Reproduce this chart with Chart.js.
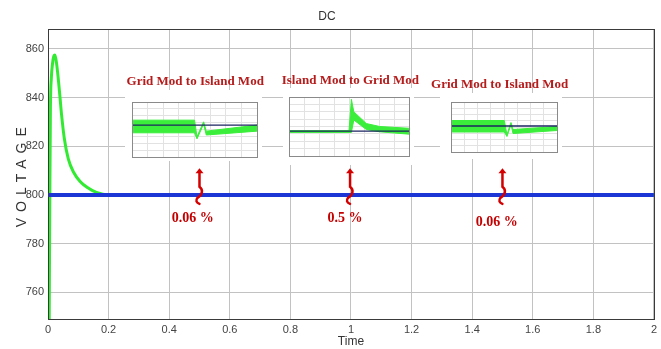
<!DOCTYPE html>
<html><head><meta charset="utf-8">
<script src="https://cdn.jsdelivr.net/npm/chart.js@4.4.1/dist/chart.umd.min.js"></script>
<style>
html,body{margin:0;padding:0;background:#fff;}
#wrap{position:relative;width:661px;height:349px;overflow:hidden;}
#main{position:absolute;left:0;top:0;}
.inset{position:absolute;background:#fff;}
.inset canvas{display:block;}
</style></head><body>
<div id="wrap">
<canvas id="main" width="661" height="349"></canvas>
<div class="inset" style="left:125px;top:90px;width:137px;height:71px"><canvas id="c1" width="137" height="71"></canvas></div>
<div class="inset" style="left:283px;top:88px;width:131px;height:77px"><canvas id="c2" width="131" height="77"></canvas></div>
<div class="inset" style="left:440px;top:93px;width:122px;height:66px"><canvas id="c3" width="122" height="66"></canvas></div>
</div>
<script>
// ---- main chart data ----
const xTicks = [0, 0.2, 0.4, 0.6, 0.8, 1, 1.2, 1.4, 1.6, 1.8, 2];
const xTickLabels = ['0','0.2','0.4','0.6','0.8','1','1.2','1.4','1.6','1.8','2'];
const yTicks = [760, 780, 800, 820, 840, 860];
const yTickLabels = ['760','780','800','820','840','860'];
const greenTime    = [0.004, 0.006, 0.008, 0.011, 0.015, 0.019, 0.023, 0.029, 0.037, 0.045, 0.054, 0.067, 0.084, 0.106, 0.13, 0.16, 0.2, 2];
const greenVoltage = [749,   800,   836,   848,   854,   857,   857.5, 853.3, 843.7, 832.7, 823.1, 814.8, 809.4, 805.5, 803, 801, 800, 800];
const blueTime    = [0, 2];
const blueVoltage = [800, 800];

// ---- annotation content ----
const modeTexts = ['Grid Mod to Island Mod', 'Island Mod to Grid Mod', 'Grid Mod to Island Mod'];
const percentTexts = ['0.06 %', '0.5 %', '0.06 %'];
const eventTimes = [0.5, 0.997, 1.5];

// ---- inset data (normalised time 0..1, arbitrary voltage 0..10) ----
const inset1X     = [0, 0.5, 0.52, 0.573, 0.594, 1];
const inset1Upper = [6.7, 6.7, 3.7, 6.4, 4.7, 5.8];
const inset1Lower = [4.4, 4.4, 3.3, 6.0, 4.0, 4.7];
const inset1Ref   = 5.8;
const inset2X     = [0, 0.5, 0.52, 0.54, 0.644, 0.756, 1];
const inset2Upper = [4.3, 4.3, 9.6, 7.5, 5.5, 5.0, 4.7];
const inset2Lower = [4.0, 4.0, 4.0, 6.1, 4.5, 4.1, 3.7];
const inset2Ref   = 4.2;
const inset3X     = [0, 0.503, 0.528, 0.566, 0.585, 1];
const inset3Upper = [6.3, 6.3, 3.5, 5.9, 4.5, 5.1];
const inset3Lower = [4.0, 4.0, 3.1, 5.5, 3.7, 4.3];
const inset3Ref   = 5.2;

// annotation placement (in data units)
const notes = {
  modeX: [0.486, 0.998, 1.491], modeY: [846.7, 847, 845.4],
  arrowTip: 810.9, arrowShaftEnd: 803.3,
  pctX: [0.478, 0.98, 1.481], pctY: [790.5, 790.5, 788.9]
};

const tickFont = {family: "'Liberation Sans', Arial, sans-serif", size: 11};

const frame = {
  id: 'frame',
  afterDraw(chart, args, opts) {
    const a = chart.chartArea, ctx = chart.ctx;
    ctx.save();
    ctx.strokeStyle = opts.color || '#333';
    ctx.lineWidth = 1;
    ctx.strokeRect(Math.round(a.left) + 0.5, Math.round(a.top) + 0.5, Math.round(a.right - a.left), Math.round(a.bottom - a.top));
    ctx.restore();
  }
};

const annot = {
  id: 'annot',
  afterDraw(chart) {
    const ctx = chart.ctx, xs = chart.scales.x, ys = chart.scales.y;
    ctx.save();
    // y axis title with letter spacing
    ctx.fillStyle = '#333';
    ctx.font = "14px 'Liberation Sans', Arial, sans-serif";
    ctx.textAlign = 'center';
    ctx.textBaseline = 'middle';
    ctx.translate(22, (chart.chartArea.top + chart.chartArea.bottom) / 2 + 3);
    ctx.rotate(-Math.PI / 2);
    try { ctx.letterSpacing = '6px'; } catch (e) {}
    ctx.fillText('VOLTAGE', 3, 0);
    ctx.restore();

    ctx.save();
    ctx.textAlign = 'center';
    ctx.textBaseline = 'middle';
    // mode titles
    ctx.fillStyle = '#b51c1c';
    ctx.font = "bold 13px 'Liberation Serif', 'Times New Roman', serif";
    modeTexts.forEach((t, i) => {
      ctx.fillText(t, xs.getPixelForValue(notes.modeX[i]), ys.getPixelForValue(notes.modeY[i]));
    });
    // percent labels
    ctx.fillStyle = '#c40000';
    ctx.font = "bold 14px 'Liberation Serif', 'Times New Roman', serif";
    percentTexts.forEach((t, i) => {
      ctx.fillText(t, xs.getPixelForValue(notes.pctX[i]), ys.getPixelForValue(notes.pctY[i]));
    });
    // curly arrows
    ctx.strokeStyle = '#d40000';
    ctx.fillStyle = '#d40000';
    ctx.lineWidth = 2.5;
    ctx.lineCap = 'round';
    eventTimes.forEach(t => {
      const x = xs.getPixelForValue(t);
      const tip = ys.getPixelForValue(notes.arrowTip);
      const s = ys.getPixelForValue(notes.arrowShaftEnd);
      ctx.beginPath();
      ctx.moveTo(x, tip);
      ctx.lineTo(x - 4, tip + 5);
      ctx.lineTo(x + 4, tip + 5);
      ctx.closePath();
      ctx.fill();
      ctx.beginPath();
      ctx.moveTo(x, tip + 4);
      ctx.lineTo(x, s);
      ctx.bezierCurveTo(x + 4, s + 3, x + 3, s + 8, x - 2, s + 11);
      ctx.quadraticCurveTo(x - 5, s + 15, x, s + 17);
      ctx.stroke();
    });
    ctx.restore();
  }
};

new Chart(document.getElementById('main'), {
  type: 'line',
  data: {
    datasets: [
      {
        label: 'Reference',
        data: blueTime.map((t, i) => ({x: t, y: blueVoltage[i]})),
        borderColor: '#1b36d4', borderWidth: 4, pointRadius: 0, order: 0
      },
      {
        label: 'DC voltage',
        data: greenTime.map((t, i) => ({x: t, y: greenVoltage[i]})),
        borderColor: '#33ea33', borderWidth: 3, pointRadius: 0,
        cubicInterpolationMode: 'monotone', order: 1
      }
    ]
  },
  options: {
    responsive: false, animation: false,
    layout: {padding: {left: 0, right: 7, top: 0, bottom: 0}},
    plugins: {
      legend: {display: false}, tooltip: {enabled: false},
      title: {display: true, text: 'DC', color: '#333',
        font: {family: "'Liberation Sans', Arial, sans-serif", size: 12, weight: 'normal'},
        padding: {top: 9, bottom: 6}},
      frame: {color: '#3a3a3a'}
    },
    scales: {
      x: {
        type: 'linear', min: 0, max: 2,
        afterFit: s => { s.height = 30; },
        afterBuildTicks: s => { s.ticks = xTicks.map(v => ({value: v})); },
        ticks: {callback: (v, i) => xTickLabels[i], font: tickFont, color: '#444', padding: 4, maxRotation: 0, autoSkip: false},
        grid: {color: '#c2c2c2', drawTicks: false},
        border: {color: '#3a3a3a'},
        title: {display: true, text: 'Time', color: '#333', font: {family: "'Liberation Sans', Arial, sans-serif", size: 12}, padding: {top: 0, bottom: 0}}
      },
      y: {
        min: 749, max: 868,
        afterFit: s => { s.width = 48; },
        afterBuildTicks: s => { s.ticks = yTicks.map(v => ({value: v})); },
        ticks: {callback: (v, i) => yTickLabels[i], font: tickFont, color: '#444', padding: 4},
        grid: {color: '#c2c2c2', drawTicks: false},
        border: {color: '#3a3a3a'}
      }
    }
  },
  plugins: [frame, annot]
});

function makeInset(id, pad, xs, upper, lower, ref) {
  new Chart(document.getElementById(id), {
    type: 'line',
    data: {
      datasets: [
        {data: xs.map((x, i) => ({x, y: ref})), borderColor: '#1c2560', borderWidth: 1.3, pointRadius: 0, order: 0},
        {data: xs.map((x, i) => ({x, y: upper[i]})), borderColor: '#3bee3b', backgroundColor: '#3bee3b', borderWidth: 1, pointRadius: 0, fill: '+1', order: 1},
        {data: xs.map((x, i) => ({x, y: lower[i]})), borderColor: '#3bee3b', borderWidth: 1, pointRadius: 0, order: 1}
      ]
    },
    options: {
      responsive: false, animation: false,
      layout: {padding: pad},
      plugins: {legend: {display: false}, tooltip: {enabled: false}, frame: {color: '#8a8a8a'}},
      scales: {
        x: {type: 'linear', min: 0, max: 1, ticks: {display: false, stepSize: 0.125}, grid: {color: '#e2e2e2', drawTicks: false}, border: {color: '#8a8a8a'}},
        y: {min: 0, max: 10, ticks: {display: false, stepSize: 1.25}, grid: {color: '#e2e2e2', drawTicks: false}, border: {color: '#8a8a8a'}}
      }
    },
    plugins: [frame]
  });
}
makeInset('c1', {left: 7, right: 5, top: 12, bottom: 4}, inset1X, inset1Upper, inset1Lower, inset1Ref);
makeInset('c2', {left: 6, right: 5, top: 9, bottom: 9}, inset2X, inset2Upper, inset2Lower, inset2Ref);
makeInset('c3', {left: 11, right: 5, top: 9, bottom: 7}, inset3X, inset3Upper, inset3Lower, inset3Ref);
</script>
</body></html>
